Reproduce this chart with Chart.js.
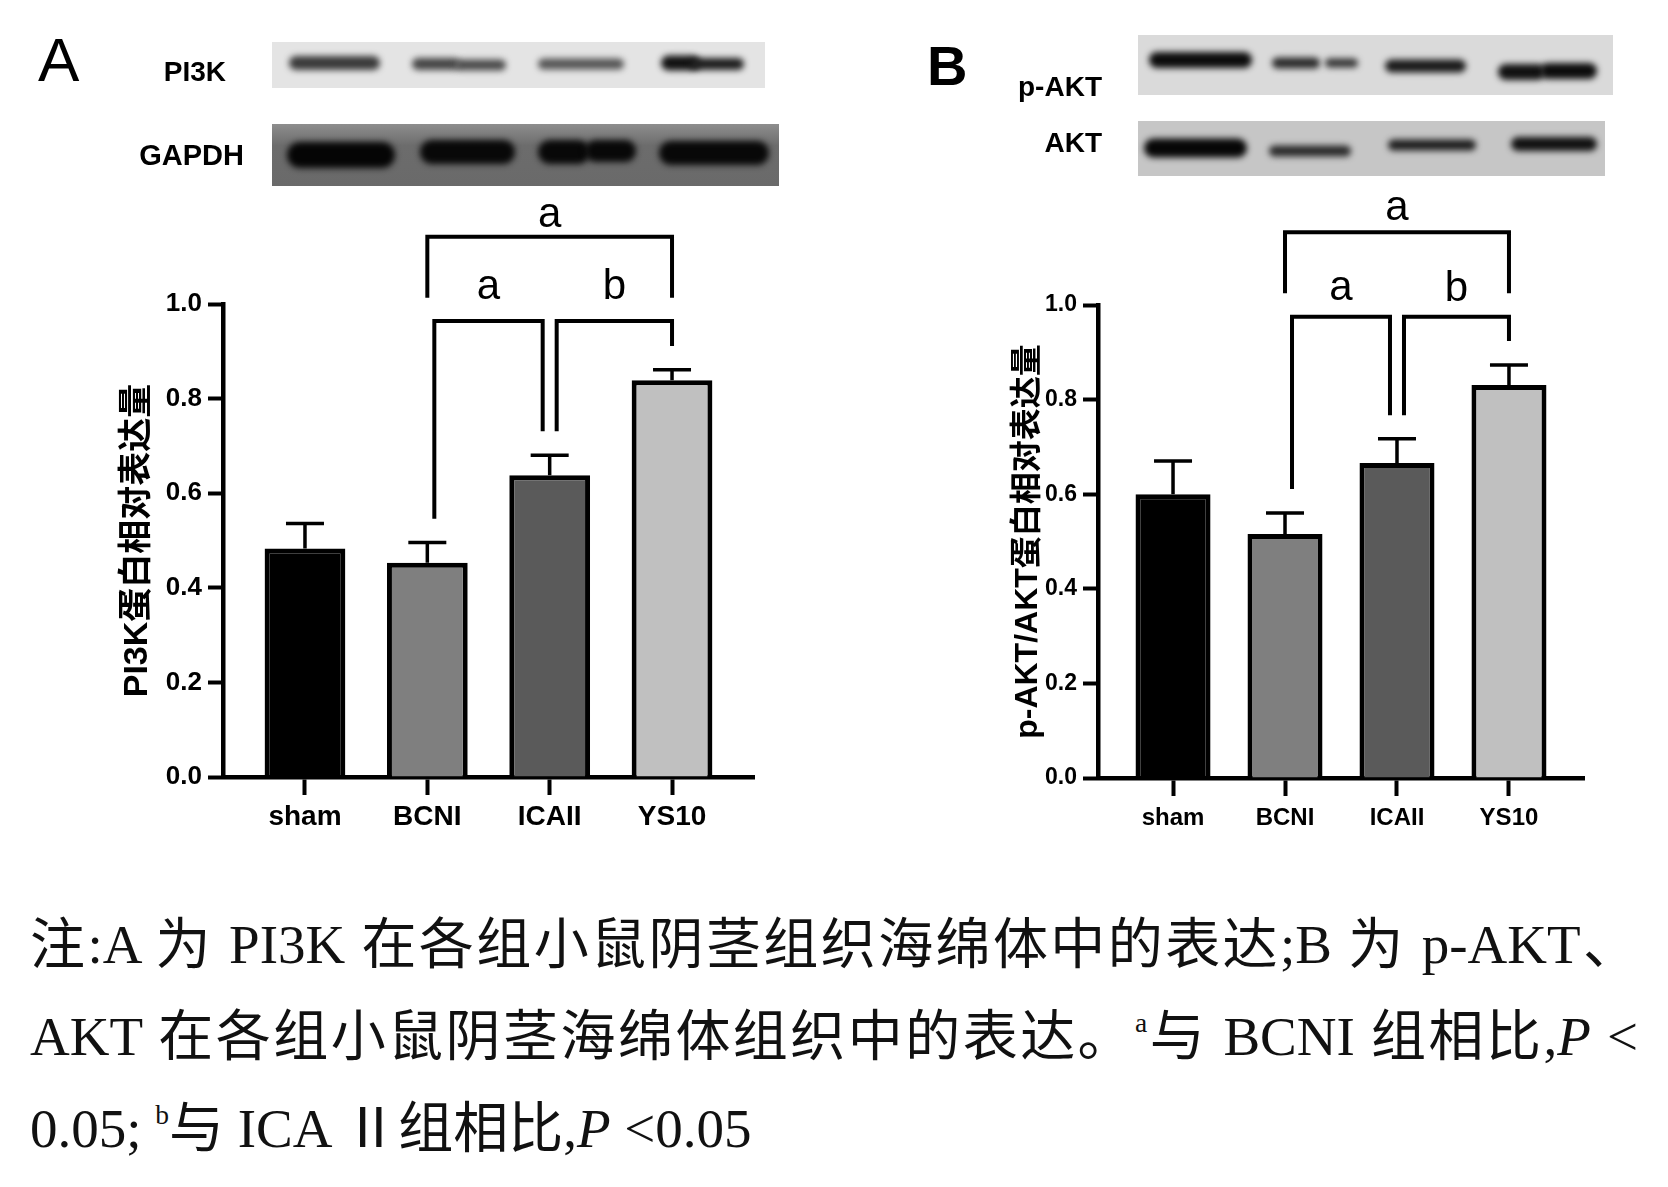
<!DOCTYPE html>
<html lang="zh-CN">
<head>
<meta charset="utf-8">
<title>PI3K / p-AKT 表达</title>
<script src="https://cdn.jsdelivr.net/npm/chart.js@4.4.1/dist/chart.umd.min.js"></script>
<style>
  html, body { margin: 0; padding: 0; background: #fff; }
  #page { position: relative; width: 1668px; height: 1187px; overflow: hidden; background: #fff; }
  #blots { position: absolute; left: 0; top: 0; }
  .chart { position: absolute; top: 0; }
  .lbl { position: absolute; font-family: "Liberation Sans", Arial, sans-serif; line-height: 1; white-space: nowrap; color: #000; }
  .note { position: absolute; left: 30px; width: 1608px; height: 56px; line-height: 56px;
          font-family: "Liberation Serif", "Times New Roman", "Noto Sans CJK SC", serif;
          font-size: 55px; color: #111; }
  .just { text-align: justify; text-align-last: justify; }
  .note sup { font-size: 0.5em; vertical-align: 0.85em; line-height: 0; }
</style>
</head>
<body>
<div id="page">
  <canvas id="blots" width="1668" height="200"></canvas>
  <canvas id="chartA" class="chart" width="834" height="880" style="left:0px"></canvas>
  <canvas id="chartB" class="chart" width="834" height="880" style="left:834px"></canvas>

  <div class="lbl" style="left:38px; top:29px; font-size:62px;">A</div>
  <div class="lbl" style="right:1442px; top:58px; font-size:28px; font-weight:bold;">PI3K</div>
  <div class="lbl" style="right:1424px; top:141px; font-size:29px; font-weight:bold;">GAPDH</div>
  <div class="lbl" style="left:927px; top:38px; font-size:56px; font-weight:bold;">B</div>
  <div class="lbl" style="right:566px; top:73px; font-size:28px; font-weight:bold;">p-AKT</div>
  <div class="lbl" style="right:566px; top:129px; font-size:28px; font-weight:bold;">AKT</div>

  <div class="note just" style="top:917px;">注:A 为 PI3K 在各组小鼠阴茎组织海绵体中的表达;B 为 p-AKT、</div>
  <div class="note just" style="top:1009px;">AKT 在各组小鼠阴茎海绵体组织中的表达。<sup>a</sup>与 BCNI 组相比,<i>P</i> &lt;</div>
  <div class="note" style="top:1101px;">0.05; <sup>b</sup>与 ICA Ⅱ组相比,<i>P</i> &lt;0.05</div>
</div>

<script>
// 数据
const groups = ['sham', 'BCNI', 'ICAII', 'YS10'];
const yTicks = [0, 0.2, 0.4, 0.6, 0.8, 1.0];

const pi3kMean = [0.483, 0.453, 0.638, 0.839];
const pi3kSd = [0.053, 0.043, 0.042, 0.022];

const aktMean = [0.600, 0.516, 0.666, 0.831];
const aktSd = [0.070, 0.044, 0.051, 0.042];

// 显著性括号: 起止组, 横线高度, 左右竖线下端, 字母及其基线
const pi3kBrackets = [
    { from: 1, to: 2, level: 0.964, legFrom: 0.546, legTo: 0.731, label: 'a', labelAt: 1.011 },
    { from: 2, to: 3, level: 0.964, legFrom: 0.731, legTo: 0.911, label: 'b', labelAt: 1.011 },
    { from: 1, to: 3, level: 1.142, legFrom: 1.013, legTo: 1.013, label: 'a', labelAt: 1.163 }
];
const aktBrackets = [
    { from: 1, to: 2, level: 0.975, legFrom: 0.611, legTo: 0.767, label: 'a', labelAt: 1.011 },
    { from: 2, to: 3, level: 0.975, legFrom: 0.767, legTo: 0.924, label: 'b', labelAt: 1.008 },
    { from: 1, to: 3, level: 1.154, legFrom: 1.025, legTo: 1.025, label: 'a', labelAt: 1.180 }
];

const barColors = ['#000000', '#7f7f7f', '#5a5a5a', '#c0c0c0'];

// 括号竖线的水平内缩(像素), 避免相邻括号重叠
const bracketInset = [[7, -7], [7, 0], [0, 0]];

function marksPlugin(means, sds, brackets) {
    return {
        id: 'marks',
        afterDatasetsDraw(chart) {
            const { ctx } = chart;
            const x = chart.scales.x;
            const y = chart.scales.y;
            ctx.save();
            ctx.strokeStyle = '#000';
            ctx.fillStyle = '#000';

            // 误差线 (只画上半)
            ctx.lineWidth = 3.5;
            means.forEach((m, i) => {
                const px = x.getPixelForValue(i);
                const y0 = y.getPixelForValue(m);
                const y1 = y.getPixelForValue(m + sds[i]);
                ctx.beginPath();
                ctx.moveTo(px, y0);
                ctx.lineTo(px, y1);
                ctx.moveTo(px - 19, y1);
                ctx.lineTo(px + 19, y1);
                ctx.stroke();
            });

            // 显著性括号
            ctx.lineWidth = 4;
            ctx.lineJoin = 'miter';
            ctx.font = '42px "Liberation Sans", Arial, sans-serif';
            ctx.textAlign = 'center';
            ctx.textBaseline = 'alphabetic';
            brackets.forEach((b, k) => {
                const inset = bracketInset[k] || [0, 0];
                const x1 = x.getPixelForValue(b.from) + inset[0];
                const x2 = x.getPixelForValue(b.to) + inset[1];
                const yl = y.getPixelForValue(b.level);
                ctx.beginPath();
                ctx.moveTo(x1, y.getPixelForValue(b.legFrom));
                ctx.lineTo(x1, yl);
                ctx.lineTo(x2, yl);
                ctx.lineTo(x2, y.getPixelForValue(b.legTo));
                ctx.stroke();
                ctx.fillText(b.label, (x1 + x2) / 2, y.getPixelForValue(b.labelAt));
            });
            ctx.restore();
        }
    };
}

function crearGrafico(id, means, sds, brackets, titulo, lay) {
    const fam = '"Liberation Sans", Arial, sans-serif';
    const tickFont = { family: fam, size: lay.tickSize, weight: 'bold' };
    const catFont = { family: fam, size: lay.catSize, weight: 'bold' };
    return new Chart(document.getElementById(id), {
        type: 'bar',
        data: {
            datasets: [{
                data: means.map((v, i) => ({ x: i, y: v })),
                backgroundColor: barColors,
                borderColor: '#000',
                borderWidth: 5,
                borderSkipped: 'start',
                categoryPercentage: 1,
                barPercentage: lay.barPct
            }]
        },
        options: {
            responsive: false,
            animation: false,
            events: [],
            layout: { padding: lay.padding },
            plugins: { legend: { display: false }, tooltip: { enabled: false } },
            scales: {
                x: {
                    type: 'linear',
                    min: -0.67,
                    max: 3.67,
                    offset: false,
                    afterBuildTicks: s => { s.ticks = groups.map((g, i) => ({ value: i })); },
                    afterFit: s => { s.height = 60; },
                    grid: { display: true, offset: false, drawOnChartArea: false, drawTicks: true,
                            tickLength: 18, tickWidth: 4, tickColor: '#000' },
                    border: { display: true, color: '#000', width: 4.5 },
                    ticks: { callback: (v, i) => groups[i], color: '#000', font: catFont,
                             padding: lay.catPad, maxRotation: 0, autoSkip: false }
                },
                y: {
                    min: 0,
                    max: 1,
                    afterBuildTicks: s => { s.ticks = yTicks.map(v => ({ value: v })); },
                    afterFit: s => { s.width = lay.yWidth; },
                    grid: { display: true, drawOnChartArea: false, drawTicks: true,
                            tickLength: 15, tickWidth: 4, tickColor: '#000' },
                    border: { display: true, color: '#000', width: 4.5 },
                    ticks: { callback: v => Number(v).toFixed(1), color: '#000', font: tickFont, padding: 6 },
                    title: {
                        display: true,
                        text: titulo,
                        color: '#000',
                        font: { family: '"Liberation Sans", "Noto Sans CJK SC", sans-serif', size: lay.titleSize, weight: 'bold' },
                        padding: { top: lay.titlePad, bottom: 0 }
                    }
                }
            }
        },
        plugins: [marksPlugin(means, sds, brackets)]
    });
}

// 蛋白印迹条带 (示意图)
function dibujarBlot(ctx, x, y, w, h, bg, bands) {
    ctx.save();
    ctx.fillStyle = bg;
    ctx.fillRect(x, y, w, h);
    ctx.beginPath();
    ctx.rect(x, y, w, h);
    ctx.clip();
    ctx.filter = 'blur(3px)';
    bands.forEach(b => {
        ctx.fillStyle = b[4];
        ctx.beginPath();
        ctx.roundRect(b[0], b[1] - b[3] / 2, b[2] - b[0], b[3], b[3] / 2);
        ctx.fill();
    });
    ctx.restore();
}

function dibujarBlots() {
    const ctx = document.getElementById('blots').getContext('2d');

    // PI3K
    dibujarBlot(ctx, 272, 42, 493, 46, '#e4e4e4', [
        [289, 63, 380, 14, '#3a3a3a'],
        [412, 64, 460, 12, '#454545'], [455, 65, 506, 11, '#4a4a4a'],
        [538, 64, 624, 11, '#555555'],
        [661, 63, 700, 15, '#111111'], [690, 64, 744, 12, '#1e1e1e']
    ]);

    // GAPDH
    const g = ctx.createLinearGradient(0, 124, 0, 186);
    g.addColorStop(0, '#8e8e8e');
    g.addColorStop(0.35, '#6c6c6c');
    g.addColorStop(1, '#6a6a6a');
    dibujarBlot(ctx, 272, 124, 507, 62, g, [
        [287, 155, 395, 26, '#050505'],
        [420, 152, 515, 24, '#080808'],
        [538, 152, 590, 24, '#080808'], [585, 151, 636, 22, '#080808'],
        [659, 153, 769, 24, '#080808']
    ]);

    // p-AKT
    dibujarBlot(ctx, 1138, 35, 475, 60, '#dadada', [
        [1149, 60, 1252, 16, '#0c0c0c'],
        [1272, 63, 1320, 11, '#2a2a2a'], [1325, 63, 1358, 9, '#333333'],
        [1385, 66, 1466, 13, '#1a1a1a'],
        [1498, 72, 1545, 16, '#111111'], [1540, 71, 1597, 16, '#0c0c0c']
    ]);

    // AKT
    dibujarBlot(ctx, 1138, 121, 467, 55, '#c6c6c6', [
        [1144, 148, 1247, 19, '#060606'],
        [1269, 151, 1351, 11, '#2a2a2a'],
        [1388, 145, 1476, 11, '#1e1e1e'],
        [1511, 144, 1597, 14, '#111111']
    ]);
}

dibujarBlots();

crearGrafico('chartA', pi3kMean, pi3kSd, pi3kBrackets, 'PI3K蛋白相对表达量', {
    padding: { left: 112, right: 80, top: 304, bottom: 43 },
    yWidth: 111,
    barPct: 0.66,
    tickSize: 26,
    catSize: 28,
    catPad: 5,
    titleSize: 34,
    titlePad: 5
});

crearGrafico('chartB', aktMean, aktSd, aktBrackets, 'p-AKT/AKT蛋白相对表达量', {
    padding: { left: 172, right: 84, top: 305, bottom: 42 },
    yWidth: 92,
    barPct: 0.67,
    tickSize: 23,
    catSize: 24,
    catPad: 8,
    titleSize: 32,
    titlePad: 3
});
</script>
</body>
</html>
